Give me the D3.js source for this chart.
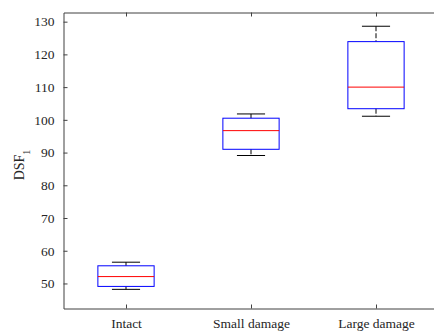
<!DOCTYPE html>
<html>
<head>
<meta charset="utf-8">
<script src="https://cdn.jsdelivr.net/npm/d3@7"></script>
<style>
  body { margin: 0; background: #fff; }
  svg { display: block; }
  text { font-family: "Liberation Serif", "Times New Roman", serif; fill: #262626; }
</style>
</head>
<body>
<div id="chart"></div>
<script>
var categories = ['Intact', 'Small damage', 'Large damage'];
var whiskerLow = [48.2, 89.1, 101.1];
var q1 = [49.1, 91.0, 103.4];
var medians = [52.1, 96.7, 110.0];
var q3 = [55.4, 100.5, 123.9];
var whiskerHigh = [56.5, 101.8, 128.6];
var yTicks = [50, 60, 70, 80, 90, 100, 110, 120, 130];

var width = 434, height = 333;
var axisColor = '#404040';

var svg = d3.select('#chart').append('svg')
  .attr('width', width)
  .attr('height', height);

var x = d3.scaleLinear()
  .domain([0.5, 3.5])
  .range([63.5, 438.5]);
var y = d3.scaleLinear()
  .domain([42.35, 132.8])
  .range([308.5, 12.5]);

var boxes = categories.map(function(c, i) {
  return { name: c, pos: i + 1, lo: whiskerLow[i], q1: q1[i], med: medians[i], q3: q3[i], hi: whiskerHigh[i] };
});

var boxHalf = x(1.225) - x(1);
var capHalf = boxHalf / 2;

var g = svg.append('g');

// whiskers (dashed)
g.selectAll('line.whisk-hi')
  .data(boxes)
.enter().append('line')
  .attr('x1', function(d) { return x(d.pos); })
  .attr('x2', function(d) { return x(d.pos); })
  .attr('y1', function(d) { return y(d.hi); })
  .attr('y2', function(d) { return y(d.q3); })
  .attr('stroke', '#000')
  .attr('stroke-dasharray', '5,2')
  .attr('stroke-width', 1);

g.selectAll('line.whisk-lo')
  .data(boxes)
.enter().append('line')
  .attr('x1', function(d) { return x(d.pos); })
  .attr('x2', function(d) { return x(d.pos); })
  .attr('y1', function(d) { return y(d.q1); })
  .attr('y2', function(d) { return y(d.lo); })
  .attr('stroke', '#000')
  .attr('stroke-dasharray', '5,2')
  .attr('stroke-width', 1);

// caps
['hi', 'lo'].forEach(function(k) {
  g.selectAll('line.cap-' + k)
    .data(boxes)
  .enter().append('line')
    .attr('x1', function(d) { return x(d.pos) - capHalf; })
    .attr('x2', function(d) { return x(d.pos) + capHalf; })
    .attr('y1', function(d) { return y(d[k]); })
    .attr('y2', function(d) { return y(d[k]); })
    .attr('stroke', '#000')
    .attr('stroke-width', 1);
});

// boxes
g.selectAll('rect.box')
  .data(boxes)
.enter().append('rect')
  .attr('x', function(d) { return x(d.pos) - boxHalf; })
  .attr('width', boxHalf * 2)
  .attr('y', function(d) { return y(d.q3); })
  .attr('height', function(d) { return y(d.q1) - y(d.q3); })
  .attr('fill', 'none')
  .attr('stroke', '#0000ff')
  .attr('stroke-width', 1);

// medians
g.selectAll('line.median')
  .data(boxes)
.enter().append('line')
  .attr('x1', function(d) { return x(d.pos) - boxHalf; })
  .attr('x2', function(d) { return x(d.pos) + boxHalf; })
  .attr('y1', function(d) { return y(d.med); })
  .attr('y2', function(d) { return y(d.med); })
  .attr('stroke', '#ff0000')
  .attr('stroke-width', 1);

// axes, MATLAB style: ticks inward, box all round
var tickLen = 4;
var axLeft = svg.append('g')
  .attr('transform', 'translate(' + x(0.5) + ',0)')
  .call(d3.axisLeft(y).tickValues(yTicks).tickSizeInner(-tickLen).tickSizeOuter(0).tickPadding(tickLen + 5));
var axRight = svg.append('g')
  .attr('transform', 'translate(' + x(3.5) + ',0)')
  .call(d3.axisRight(y).tickValues(yTicks).tickSizeInner(-tickLen).tickSizeOuter(0).tickFormat(''));
var axBottom = svg.append('g')
  .attr('transform', 'translate(0,' + y(42.35) + ')')
  .call(d3.axisBottom(x).tickValues([1, 2, 3]).tickSizeInner(-tickLen).tickSizeOuter(0).tickPadding(tickLen + 6)
    .tickFormat(function(d) { return categories[d - 1]; }));
var axTop = svg.append('g')
  .attr('transform', 'translate(0,' + y(132.8) + ')')
  .call(d3.axisTop(x).tickValues([1, 2, 3]).tickSizeInner(-tickLen).tickSizeOuter(0).tickFormat(''));

[axLeft, axRight, axBottom, axTop].forEach(function(a) {
  a.attr('font-family', '"Liberation Serif", "Times New Roman", serif')
    .attr('font-size', 13.5);
  a.select('.domain').attr('stroke', axisColor);
  a.selectAll('.tick line').attr('stroke', axisColor);
  a.selectAll('.tick text').attr('fill', '#262626');
});

// y label with subscript
svg.append('text')
  .attr('transform', 'translate(24,' + 165 + ') rotate(-90)')
  .attr('text-anchor', 'middle')
  .attr('font-size', '14px')
  .text('DSF')
  .append('tspan')
  .attr('baseline-shift', 'sub')
  .attr('font-size', '10px')
  .text('1');
</script>
</body>
</html>
